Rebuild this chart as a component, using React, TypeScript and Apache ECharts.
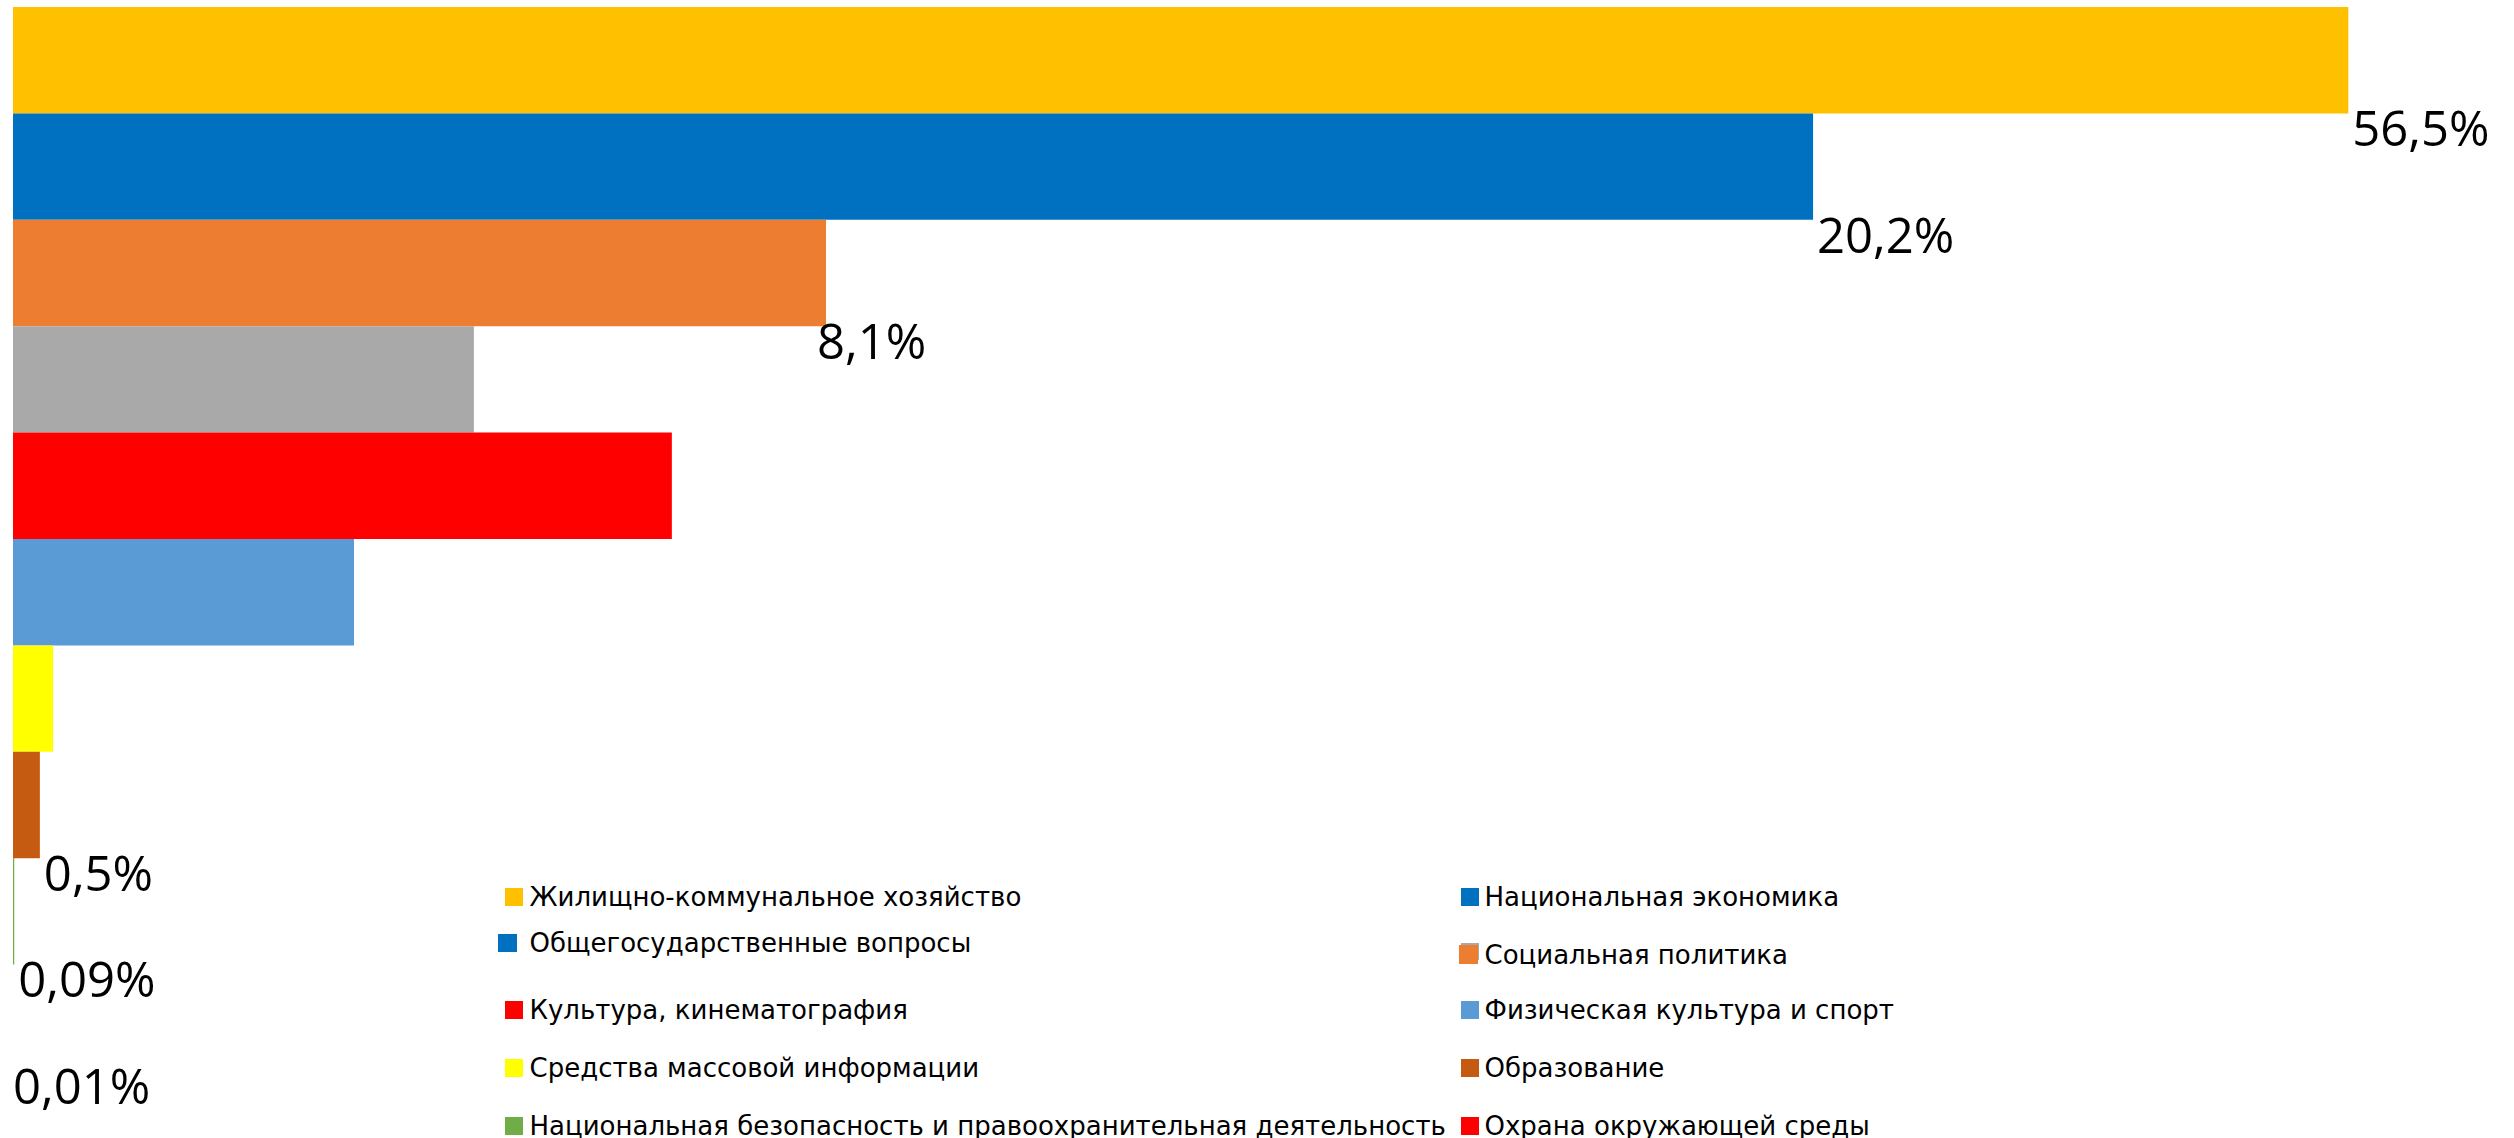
import React, { useEffect, useRef } from "react";
import * as echarts from "echarts";

// ---- data ----
const barNames = [
  "Жилищно-коммунальное хозяйство",
  "Национальная экономика",
  "Социальная политика",
  "Прочие расходы",
  "Культура, кинематография",
  "Физическая культура и спорт",
  "Средства массовой информации",
  "Образование",
  "Национальная безопасность и правоохранительная деятельность",
  "Охрана окружающей среды",
];
const barValues = [56.5, 43.55, 19.67, 11.15, 15.94, 8.25, 0.97, 0.65, 0.03, 0];
const barLabels = ["56,5%", "20,2%", "8,1%", "", "", "", "", "0,5%", "0,09%", "0,01%"];
const barColors = [
  "#FFC000", "#0070C0", "#ED7D31", "#A9A9A9", "#FF0000",
  "#5B9BD5", "#FFFF00", "#C55A11", "#70AD47", "#FF0000",
];
const extraLegendName = "Общегосударственные вопросы";
const extraLegendColor = "#0070C0";

// ---- layout (styles / positions) ----
const labelDx = [0, 0, -13, 0, 0, 0, 0, 0, 0, -4];
const LEG_FONT = 26;
const LEG_FAMILY = "'DejaVu Sans', sans-serif";
const legendLayout = [
  { name: "Жилищно-коммунальное хозяйство", left: 505, iw: 18, ih: 18, iconCY: 897, textCY: 896, textLeft: 529.5 },
  { name: "Общегосударственные вопросы", left: 498, iw: 19, ih: 18, iconCY: 943, textCY: 947, textLeft: 529.5 },
  { name: "Культура, кинематография", left: 505, iw: 18, ih: 18, iconCY: 1010, textCY: 1004.5, textLeft: 529.5 },
  { name: "Средства массовой информации", left: 505, iw: 18, ih: 18, iconCY: 1068, textCY: 1061.5, textLeft: 529.5 },
  { name: "Национальная безопасность и правоохранительная деятельность", left: 505, iw: 18, ih: 18, iconCY: 1126, textCY: 1124.5, textLeft: 529.5 },
  { name: "Национальная экономика", left: 1461, iw: 18, ih: 18, iconCY: 897, textCY: 896, textLeft: 1484.5 },
  { name: "Социальная политика", left: 1459, iw: 19, ih: 19, iconCY: 954.5, textCY: 952.5, textLeft: 1484.5 },
  { name: "Физическая культура и спорт", left: 1461, iw: 18, ih: 18, iconCY: 1010, textCY: 1004, textLeft: 1484.5 },
  { name: "Образование", left: 1461, iw: 18, ih: 18, iconCY: 1068, textCY: 1061.5, textLeft: 1484.5 },
  { name: "Охрана окружающей среды", left: 1461, iw: 18, ih: 18, iconCY: 1126, textCY: 1124.5, textLeft: 1484.5 },
];

function buildOption() {
  const series: any[] = barNames.map((name, i) => ({
    type: "bar",
    name,
    stack: "all",
    barCategoryGap: "0%",
    itemStyle: { color: barColors[i] },
    label: {
      show: barLabels[i] !== "",
      position: "right",
      distance: 4,
      offset: [labelDx[i], 67],
      formatter: () => barLabels[i],
      fontSize: 49,
      fontFamily: "'Open Sans', sans-serif",
      color: "#000000",
    },
    data: barValues.map((v, j) => (j === i ? v : "-")),
  }));
  series.push({
    type: "bar",
    name: extraLegendName,
    stack: "all",
    itemStyle: { color: extraLegendColor },
    data: barValues.map(() => "-"),
  });

  const legends = legendLayout.map((l) => {
    const d = l.iconCY - l.textCY;
    const padLeft = l.textLeft - (l.left + l.iw + 5);
    const pad = d >= 0 ? [0, 0, 2 * d, padLeft] : [-2 * d, 0, 0, padLeft];
    return {
      data: [l.name],
      left: l.left,
      top: l.iconCY - LEG_FONT / 2 - Math.abs(d),
      padding: 0,
      orient: "horizontal",
      icon: "rect",
      itemWidth: l.iw,
      itemHeight: l.ih,
      selectedMode: false,
      textStyle: {
        fontSize: LEG_FONT,
        lineHeight: LEG_FONT,
        fontFamily: LEG_FAMILY,
        color: "#000000",
        padding: pad,
      },
    };
  });

  return {
    animation: false,
    backgroundColor: "#ffffff",
    grid: { left: 13, top: 7, width: 2480, height: 1064, containLabel: false },
    xAxis: { type: "value", min: 0, max: 60, show: false },
    yAxis: { type: "category", data: barNames, inverse: true, show: false },
    legend: legends,
    graphic: [
      { type: "rect", left: 1461, top: 943, shape: { width: 18, height: 17 }, style: { fill: "#A9A9A9" }, z: 0 },
    ],
    series,
  };
}

export default function App() {
  const ref = useRef<HTMLDivElement>(null);
  useEffect(() => {
    document.body.style.margin = "0";
    const chart = echarts.init(ref.current!, undefined, { renderer: "svg" });
    chart.setOption(buildOption() as any);
    return () => chart.dispose();
  }, []);
  return (
    <div
      ref={ref}
      style={{ position: "absolute", left: 0, top: 0, width: 2514, height: 1138 }}
    />
  );
}
